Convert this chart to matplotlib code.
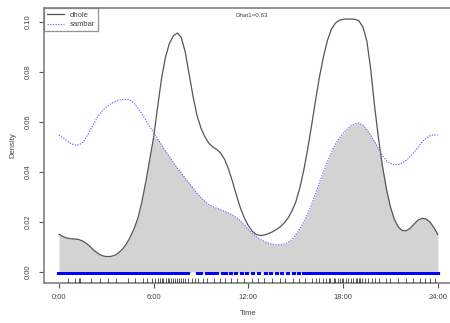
import matplotlib
matplotlib.use("Agg")
import matplotlib.pyplot as plt
import numpy as np

plt.rcParams['font.family'] = ['Liberation Sans', 'DejaVu Sans']

hours = [0.00, 0.25, 0.50, 0.75, 1.00, 1.25, 1.50, 1.75, 2.00, 2.25, 2.50, 2.75,
         3.00, 3.25, 3.50, 3.75, 4.00, 4.25, 4.50, 4.75, 5.00, 5.25, 5.50, 5.75,
         6.00, 6.25, 6.50, 6.75, 7.00, 7.25, 7.50, 7.75, 8.00, 8.25, 8.50, 8.75,
         9.00, 9.25, 9.50, 9.75, 10.00, 10.25, 10.50, 10.75, 11.00, 11.25, 11.50,
         11.75, 12.00, 12.25, 12.50, 12.75, 13.00, 13.25, 13.50, 13.75, 14.00,
         14.25, 14.50, 14.75, 15.00, 15.25, 15.50, 15.75, 16.00, 16.25, 16.50,
         16.75, 17.00, 17.25, 17.50, 17.75, 18.00, 18.25, 18.50, 18.75, 19.00,
         19.25, 19.50, 19.75, 20.00, 20.25, 20.50, 20.75, 21.00, 21.25, 21.50,
         21.75, 22.00, 22.25, 22.50, 22.75, 23.00, 23.25, 23.50, 23.75, 24.00]

dhole = [0.0151, 0.0142, 0.0136, 0.0133, 0.0132, 0.0130, 0.0124, 0.0114, 0.0100,
         0.0085, 0.0073, 0.0065, 0.0062, 0.0062, 0.0066, 0.0075, 0.0090, 0.0110,
         0.0138, 0.0172, 0.0215, 0.0280, 0.0360, 0.0450, 0.0540, 0.0660, 0.0775,
         0.0860, 0.0915, 0.0945, 0.0956, 0.0938, 0.0880, 0.0790, 0.0700, 0.0625,
         0.0575, 0.0540, 0.0515, 0.0500, 0.0490, 0.0475, 0.0450, 0.0410, 0.0360,
         0.0305, 0.0255, 0.0215, 0.0185, 0.0163, 0.0150, 0.0146, 0.0148, 0.0153,
         0.0160, 0.0169, 0.0180, 0.0195, 0.0215, 0.0243, 0.0280, 0.0335, 0.0405,
         0.0490, 0.0585, 0.0685, 0.0780, 0.0860, 0.0925, 0.0970, 0.0995, 0.1007,
         0.1011, 0.1012, 0.1012, 0.1011, 0.1005, 0.0980, 0.0925, 0.0810, 0.0660,
         0.0530, 0.0420, 0.0330, 0.0260, 0.0210, 0.0180, 0.0166, 0.0165, 0.0175,
         0.0192, 0.0208, 0.0215, 0.0212, 0.0200, 0.0178, 0.0150]

sambar = [0.0548, 0.0537, 0.0525, 0.0514, 0.0508, 0.0508, 0.0518, 0.0540, 0.0570,
          0.0598, 0.0625, 0.0645, 0.0660, 0.0672, 0.0680, 0.0686, 0.0690, 0.0691,
          0.0688, 0.0675, 0.0655, 0.0633, 0.0608, 0.0582, 0.0558, 0.0533, 0.0508,
          0.0484, 0.0461, 0.0438, 0.0416, 0.0395, 0.0375, 0.0355, 0.0335, 0.0315,
          0.0297, 0.0282, 0.0270, 0.0261, 0.0255, 0.0249, 0.0243, 0.0236, 0.0228,
          0.0218, 0.0204, 0.0188, 0.0170, 0.0155, 0.0141, 0.0130, 0.0123, 0.0116,
          0.0112, 0.0109, 0.0109, 0.0112, 0.0118, 0.0130, 0.0148, 0.0172, 0.0200,
          0.0233, 0.0270, 0.0312, 0.0358, 0.0400, 0.0440, 0.0477, 0.0510, 0.0535,
          0.0555, 0.0572, 0.0585, 0.0593, 0.0596, 0.0588, 0.0570, 0.0546, 0.0520,
          0.0492, 0.0465, 0.0445, 0.0434, 0.0429, 0.0430, 0.0436, 0.0446, 0.0462,
          0.0480, 0.0500, 0.0520, 0.0535, 0.0545, 0.0549, 0.0548]

sambar_obs = [0.0, 0.2, 0.4, 0.6, 0.8, 1.0, 1.2, 1.4, 1.6, 1.8, 2.0, 2.2, 2.4, 2.6,
              2.8, 3.0, 3.2, 3.4, 3.6, 3.8, 4.0, 4.2, 4.4, 4.6, 4.8, 5.0, 5.2, 5.4,
              5.6, 5.8, 6.0, 6.2, 6.4, 6.6, 6.8, 7.0, 7.2, 7.4, 7.6, 7.8, 8.0, 8.2,
              8.8, 9.0, 9.4, 9.6, 9.8, 10.0, 10.4, 10.6, 10.9, 11.2, 11.6, 11.9,
              12.3, 12.7, 13.1, 13.4, 13.8, 14.1, 14.5, 14.9, 15.2, 15.5, 15.7,
              15.9, 16.1, 16.3, 16.5, 16.7, 16.9, 17.1, 17.3, 17.5, 17.7, 17.9,
              18.1, 18.3, 18.5, 18.7, 18.9, 19.1, 19.3, 19.5, 19.7, 19.9, 20.1,
              20.3, 20.5, 20.7, 20.9, 21.1, 21.3, 21.5, 21.7, 21.9, 22.1, 22.3,
              22.5, 22.7, 22.9, 23.1, 23.3, 23.5, 23.7, 23.9, 24.0]

dhole_obs = [0.6, 1.0, 1.3, 1.35, 2.0, 2.6, 3.1, 3.6, 4.4, 4.8, 5.3, 5.6, 5.9,
             6.1, 6.25, 6.4, 6.5, 6.6, 6.75, 6.9, 7.0, 7.1, 7.2, 7.35, 7.5, 7.6,
             7.7, 7.85, 8.0, 8.2, 8.4, 8.6, 8.8, 9.1, 9.4, 9.8, 10.2, 10.5, 10.9,
             11.3, 11.7, 12.2, 12.6, 13.0, 13.5, 14.0, 14.3, 14.8, 15.2, 15.6,
             16.0, 16.3, 16.5, 16.7, 16.9, 17.1, 17.2, 17.4, 17.5, 17.7, 17.8,
             17.9, 18.0, 18.2, 18.3, 18.5, 18.6, 18.8, 18.9, 19.0, 19.1, 19.2,
             19.4, 19.6, 19.8, 20.0, 20.3, 20.7, 21.0, 21.5, 22.0, 22.4, 22.9,
             23.2, 23.5, 23.8]

xticks = [0, 6, 12, 18, 24]
xticklabels = ["0:00", "6:00", "12:00", "18:00", "24:00"]
yticks = [0.00, 0.02, 0.04, 0.06, 0.08, 0.10]
yticklabels = ["0.00", "0.02", "0.04", "0.06", "0.08", "0.10"]

fig = plt.figure(figsize=(4.5, 3.23), dpi=100)
ax = fig.add_axes([43.8 / 450, (323 - 282.5) / 323, 409.2 / 450, 274.2 / 323])

h = np.array(hours)
d = np.array(dhole)
s = np.array(sambar)
ax.fill_between(h, 0, np.minimum(d, s), color="#d3d3d3", lw=0, zorder=1)
ax.plot(h, d, color="#555555", lw=0.9, zorder=3, label="dhole",
        solid_joinstyle="round")
ax.plot(h, s, color="#6a6aff", lw=0.8, ls=(0, (1.2, 1.2)), zorder=3,
        label="sambar")

# rugs
ax.vlines(sambar_obs, -0.0011, 0.0, color="#0000ff", lw=3.0, zorder=4)
ax.vlines(dhole_obs, -0.0042, -0.0023, color="#111111", lw=0.6, alpha=0.8,
          zorder=4)

ax.set_xlim(-0.96, 24.96)
ax.set_ylim(-0.0042, 0.1055)

ax.set_xticks(xticks)
ax.set_xticklabels(xticklabels)
ax.set_yticks(yticks)
ax.set_yticklabels(yticklabels, rotation=90, va="center")
ax.tick_params(axis="both", labelsize=5.5, length=3.5, width=0.8,
               color="#555555", labelcolor="#444444", pad=5)

for sp in ax.spines.values():
    sp.set_color("#8a8a8a")
    sp.set_linewidth(1.3)
ax.spines["right"].set_visible(False)

ax.set_xlabel("Time", fontsize=5.5, color="#444444", labelpad=6)
ax.set_ylabel("Density", fontsize=5.5, color="#444444", labelpad=6)

ax.text(12.2, 0.972, "Dhat1=0.63", transform=ax.get_xaxis_transform(),
        fontsize=4.5, color="#444444", ha="center", va="center")

leg = ax.legend(loc="upper left", fontsize=5.5, frameon=True, fancybox=False,
                borderaxespad=0, handlelength=2.2, labelspacing=0.3,
                borderpad=0.4, handletextpad=0.8)
leg.get_frame().set_edgecolor("#777777")
leg.get_frame().set_linewidth(0.9)
for t in leg.get_texts():
    t.set_color("#444444")

fig.savefig("out.png", dpi=100)
